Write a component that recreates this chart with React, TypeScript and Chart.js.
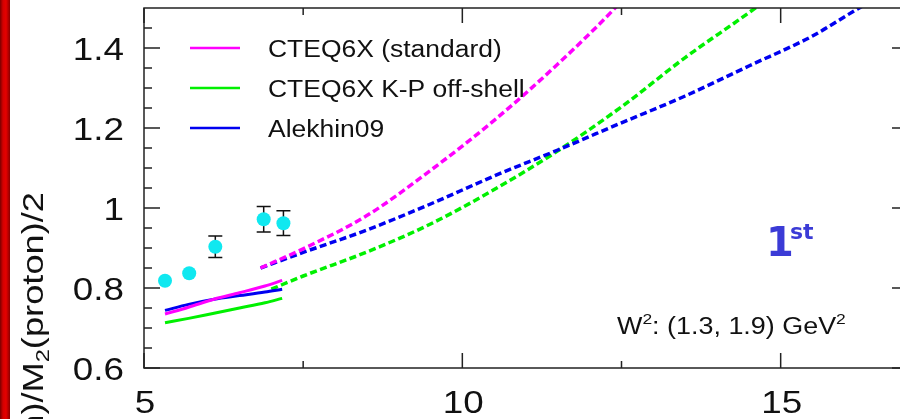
import React, { useEffect, useRef } from "react";
import { Chart, registerables } from "chart.js";

Chart.register(...registerables);

// ---------------- data ----------------
const obsX = [5.33, 5.71, 6.12, 6.88, 7.19];
const obsY = [0.818, 0.837, 0.903, 0.972, 0.962];
const obsErr = [0, 0, 0.027, 0.032, 0.031];

const solidX = [5.33, 5.7, 6.1, 6.5, 6.9, 7.17];
const magSolidY = [0.735, 0.752, 0.772, 0.788, 0.805, 0.819];
const bluSolidY = [0.744, 0.759, 0.772, 0.781, 0.79, 0.797];
const grnSolidY = [0.713, 0.724, 0.737, 0.75, 0.763, 0.774];

const magDashX = [6.83, 7.5, 8.5, 9.5, 10.5, 11.5, 12.37, 12.6];
const magDashY = [0.85, 0.898, 0.981, 1.094, 1.219, 1.36, 1.495, 1.535];
const bluDashX = [6.83, 7.5, 8.5, 9.5, 10.5, 11.5, 12.5, 13.5, 14.5, 15.5, 16.2, 16.4];
const bluDashY = [0.85, 0.889, 0.945, 1.01, 1.08, 1.145, 1.213, 1.28, 1.355, 1.43, 1.497, 1.515];
const grnDashX = [7.0, 7.5, 8.5, 9.5, 10.5, 11.5, 12.5, 13.5, 14.6, 14.8];
const grnDashY = [0.797, 0.83, 0.89, 0.96, 1.046, 1.143, 1.253, 1.376, 1.5, 1.525];

const legendLabels = ["CTEQ6X (standard)", "CTEQ6X K-P off-shell", "Alekhin09"];

const xMajor = [5, 10, 15];
const xMajorLabels = ["5", "10", "15"];
const xMinor = [7.5, 12.5];
const yMajor = [0.6, 0.8, 1.0, 1.2, 1.4];
const yMajorLabels = ["0.6", "0.8", "1", "1.2", "1.4"];
const yMinor = [0.65, 0.7, 0.75, 0.85, 0.9, 0.95, 1.05, 1.1, 1.15, 1.25, 1.3, 1.35, 1.45];

// ---------------- styles ----------------
const MAGENTA = "#ff00ff";
const GREEN = "#00f000";
const BLUE = "#0000f0";
const CYAN = "#10e8f0";
const legendColors = [MAGENTA, GREEN, BLUE];
const FONT = "'Liberation Sans', Arial, Helvetica, sans-serif";

type Seg = { t: string; sup?: boolean; sub?: boolean };

function drawRich(
  ctx: CanvasRenderingContext2D,
  segs: Seg[],
  x: number,
  y: number,
  o: {
    size: number;
    family?: string;
    weight?: string;
    color?: string;
    sx?: number;
    align?: "left" | "right" | "center";
    rotate?: boolean;
    spacing?: number;
  }
) {
  const family = o.family || FONT;
  const weight = o.weight || "normal";
  ctx.save();
  ctx.translate(x, y);
  if (o.rotate) ctx.rotate(-Math.PI / 2);
  ctx.scale(o.sx || 1, 1);
  ctx.fillStyle = o.color || "#000";
  ctx.textAlign = "left";
  ctx.textBaseline = "alphabetic";
  (ctx as any).letterSpacing = (o.spacing || 0) + "px";
  const widths: number[] = [];
  let total = 0;
  for (const s of segs) {
    const sz = s.sup || s.sub ? o.size * 0.65 : o.size;
    ctx.font = `${weight} ${sz}px ${family}`;
    const w = ctx.measureText(s.t).width;
    widths.push(w);
    total += w;
  }
  let cx = o.align === "right" ? -total : o.align === "center" ? -total / 2 : 0;
  segs.forEach((s, i) => {
    const sz = s.sup || s.sub ? o.size * 0.65 : o.size;
    ctx.font = `${weight} ${sz}px ${family}`;
    const dy = s.sup ? -o.size * 0.42 : s.sub ? o.size * 0.22 : 0;
    ctx.fillText(s.t, cx, dy);
    cx += widths[i];
  });
  ctx.restore();
}

const decorPlugin = {
  id: "decor",
  beforeDatasetsDraw(chart: any) {
    const ctx: CanvasRenderingContext2D = chart.ctx;
    const xs = chart.scales.x;
    const ys = chart.scales.y;
    ctx.save();
    ctx.strokeStyle = "#111";
    ctx.lineWidth = 1.5;
    obsX.forEach((xv, i) => {
      if (!obsErr[i]) return;
      const px = xs.getPixelForValue(xv);
      const pt = ys.getPixelForValue(obsY[i] + obsErr[i]);
      const pb = ys.getPixelForValue(obsY[i] - obsErr[i]);
      ctx.beginPath();
      ctx.moveTo(px, pt);
      ctx.lineTo(px, pb);
      ctx.moveTo(px - 7, pt);
      ctx.lineTo(px + 7, pt);
      ctx.moveTo(px - 7, pb);
      ctx.lineTo(px + 7, pb);
      ctx.stroke();
    });
    ctx.restore();
  },
  afterDraw(chart: any) {
    const ctx: CanvasRenderingContext2D = chart.ctx;
    const a = chart.chartArea;
    const xs = chart.scales.x;
    const ys = chart.scales.y;
    ctx.save();
    // frame
    ctx.strokeStyle = "#222";
    ctx.lineWidth = 1.5;
    ctx.strokeRect(a.left, a.top, a.right - a.left, a.bottom - a.top);
    // ticks
    ctx.beginPath();
    const yt = (v: number, len: number) => {
      const p = ys.getPixelForValue(v);
      ctx.moveTo(a.left, p);
      ctx.lineTo(a.left + len, p);
      ctx.moveTo(a.right, p);
      ctx.lineTo(a.right - len, p);
    };
    const xt = (v: number, len: number) => {
      const p = xs.getPixelForValue(v);
      ctx.moveTo(p, a.bottom);
      ctx.lineTo(p, a.bottom - len);
      ctx.moveTo(p, a.top);
      ctx.lineTo(p, a.top + len);
    };
    yMajor.forEach((v) => yt(v, 16));
    yMinor.forEach((v) => yt(v, 8));
    xMajor.forEach((v) => xt(v, 15));
    xMinor.forEach((v) => xt(v, 7));
    ctx.stroke();
    ctx.restore();

    // tick labels
    yMajor.forEach((v, i) => {
      drawRich(ctx, [{ t: yMajorLabels[i] }], 124, ys.getPixelForValue(v) + 12, {
        size: 32,
        sx: 1.15,
        align: "right",
        color: "#111",
      });
    });
    xMajor.forEach((v, i) => {
      drawRich(ctx, [{ t: xMajorLabels[i] }], xs.getPixelForValue(v) + 1, 413, {
        size: 32,
        sx: 1.15,
        align: "center",
        color: "#111",
      });
    });

    // legend
    legendLabels.forEach((lab, i) => {
      const ly = 48 + 40 * i;
      ctx.save();
      ctx.strokeStyle = legendColors[i];
      ctx.lineWidth = 2.5;
      ctx.beginPath();
      ctx.moveTo(190, ly);
      ctx.lineTo(240, ly);
      ctx.stroke();
      ctx.restore();
      drawRich(ctx, [{ t: lab }], 268, ly + 9, { size: 23, sx: 1.15, color: "#111" });
    });

    // W^2 annotation
    drawRich(
      ctx,
      [{ t: "W" }, { t: "2", sup: true }, { t: ": (1.3, 1.9) GeV" }, { t: "2", sup: true }],
      617,
      334,
      { size: 23, sx: 1.17, color: "#111" }
    );

    // 1st
    drawRich(ctx, [{ t: "1" }], 766, 256, {
      size: 40,
      weight: "bold",
      family: "'DejaVu Sans', sans-serif",
      color: "#3b3bd6",
    });
    drawRich(ctx, [{ t: "st" }], 790, 239, {
      size: 22,
      weight: "bold",
      family: "'DejaVu Sans', sans-serif",
      color: "#3b3bd6",
    });

    // y-axis title
    drawRich(
      ctx,
      [
        { t: "M" },
        { t: "2", sub: true },
        { t: "(deuteron)/M" },
        { t: "2", sub: true },
        { t: "(proton)/2" },
      ],
      43,
      192,
      { size: 29, sx: 1.25, align: "right", rotate: true, color: "#111" }
    );
  },
};

function pts(xs: number[], ys: number[]) {
  return xs.map((x, i) => ({ x, y: ys[i] }));
}

export default function App() {
  const ref = useRef<HTMLCanvasElement | null>(null);
  useEffect(() => {
    if (!ref.current) return;
    const lineBase = {
      showLine: true,
      pointRadius: 0,
      borderWidth: 3,
      fill: false,
      cubicInterpolationMode: "monotone" as const,
      clip: 0,
    };
    const dashBase = { ...lineBase, borderWidth: 3.5, borderDash: [7, 3.5] };
    const chart = new Chart(ref.current, {
      type: "scatter",
      data: {
        datasets: [
          { ...lineBase, label: legendLabels[0], data: pts(solidX, magSolidY), borderColor: MAGENTA },
          { ...lineBase, label: legendLabels[1], data: pts(solidX, grnSolidY), borderColor: GREEN },
          { ...lineBase, label: legendLabels[2], data: pts(solidX, bluSolidY), borderColor: BLUE },
          { ...dashBase, label: "mag dashed", data: pts(magDashX, magDashY), borderColor: MAGENTA },
          { ...dashBase, label: "blue dashed", data: pts(bluDashX, bluDashY), borderColor: BLUE },
          { ...dashBase, label: "green dashed", data: pts(grnDashX, grnDashY), borderColor: GREEN },
          {
            label: "data",
            data: pts(obsX, obsY),
            showLine: false,
            pointRadius: 7,
            pointBackgroundColor: CYAN,
            pointBorderWidth: 0,
            borderColor: CYAN,
            backgroundColor: CYAN,
          },
        ],
      },
      options: {
        responsive: false,
        animation: false,
        devicePixelRatio: 1,
        layout: { padding: { left: 144, top: 8, right: 8, bottom: 51 } },
        plugins: { legend: { display: false }, tooltip: { enabled: false } },
        events: [],
        scales: {
          x: { type: "linear", min: 5, max: 17, display: false },
          y: { type: "linear", min: 0.6, max: 1.5, display: false },
        },
      },
      plugins: [decorPlugin],
    });
    return () => chart.destroy();
  }, []);

  return (
    <div
      style={{
        position: "absolute",
        left: 0,
        top: 0,
        width: 900,
        height: 419,
        overflow: "hidden",
        background: "#fff",
      }}
    >
      <canvas
        ref={ref}
        width={916}
        height={419}
        style={{ position: "absolute", left: 0, top: 0, width: 916, height: 419, display: "block" }}
      />
      <div
        style={{
          position: "absolute",
          left: 0,
          top: 0,
          width: 10,
          height: 419,
          background: "linear-gradient(to right, #7a0000 0%, #d40000 30%, #e60000 60%, #8a0000 100%)",
        }}
      />
    </div>
  );
}
